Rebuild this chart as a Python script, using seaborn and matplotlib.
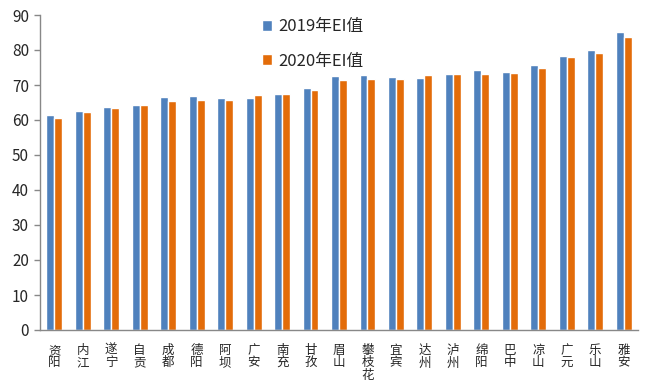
import pandas as pd
import seaborn as sns
import matplotlib.pyplot as plt

cities = ["资阳", "内江", "遂宁", "自贡", "成都", "德阳", "阿坝", "广安", "南充", "甘孜",
          "眉山", "攀枝花", "宜宾", "达州", "泸州", "绵阳", "巴中", "凉山", "广元", "乐山", "雅安"]
ei_2019 = [61.5, 62.7, 63.8, 64.4, 66.7, 66.9, 66.4, 66.4, 67.5, 69.2,
           72.7, 72.9, 72.4, 72.1, 73.2, 74.4, 73.8, 75.8, 78.4, 80.1, 85.2]
ei_2020 = [60.7, 62.4, 63.5, 64.4, 65.5, 65.8, 65.8, 67.2, 67.5, 68.7,
           71.5, 71.8, 71.8, 72.9, 73.2, 73.2, 73.5, 74.9, 78.1, 79.2, 83.8]
series = ["2019年EI值", "2020年EI值"]

df = pd.DataFrame({
    "city": cities * 2,
    "value": ei_2019 + ei_2020,
    "year": [series[0]] * len(cities) + [series[1]] * len(cities),
})

sns.set_theme(style="white")
plt.rcParams['font.family'] = ['Noto Sans CJK SC', 'DejaVu Sans']

fig = plt.figure(figsize=(6.64, 3.89), dpi=100)
ax = fig.add_axes([40 / 664, 1 - 330 / 389, 598 / 664, 315 / 389])

sns.barplot(data=df, x="city", y="value", hue="year", order=cities,
            palette=["#4F81BD", "#E36C09"], width=0.56, gap=0,
            saturation=1, ax=ax)

ax.set_xlim(-0.5, len(cities) - 0.5)
ax.set_ylim(0, 90)
ax.set_yticks(range(0, 91, 10))
ax.set_xlabel("")
ax.set_ylabel("")

# vertical labels, one character per line
ax.set_xticks(range(len(cities)))
ax.set_xticklabels(["\n".join(c) for c in cities], fontsize=9,
                   linespacing=0.95, va="top")
ax.tick_params(axis="x", which="major", length=0, pad=10)
ax.set_xticks([i - 0.5 for i in range(len(cities) + 1)], minor=True)
ax.tick_params(axis="x", which="minor", length=4, color="#888888", width=1)
ax.tick_params(axis="y", length=4, color="#888888", width=1, labelsize=11,
               pad=4, left=True)

for s in ["top", "right"]:
    ax.spines[s].set_visible(False)
for s in ["left", "bottom"]:
    ax.spines[s].set_color("#888888")
    ax.spines[s].set_linewidth(1)

ax.legend(frameon=False, loc="upper left", bbox_to_anchor=(222 / 598, 0.99),
          fontsize=12, handlelength=0.6, handleheight=0.6, labelspacing=1.05,
          handletextpad=0.4, borderaxespad=0, borderpad=0)

plt.savefig("out.png", dpi=100)
